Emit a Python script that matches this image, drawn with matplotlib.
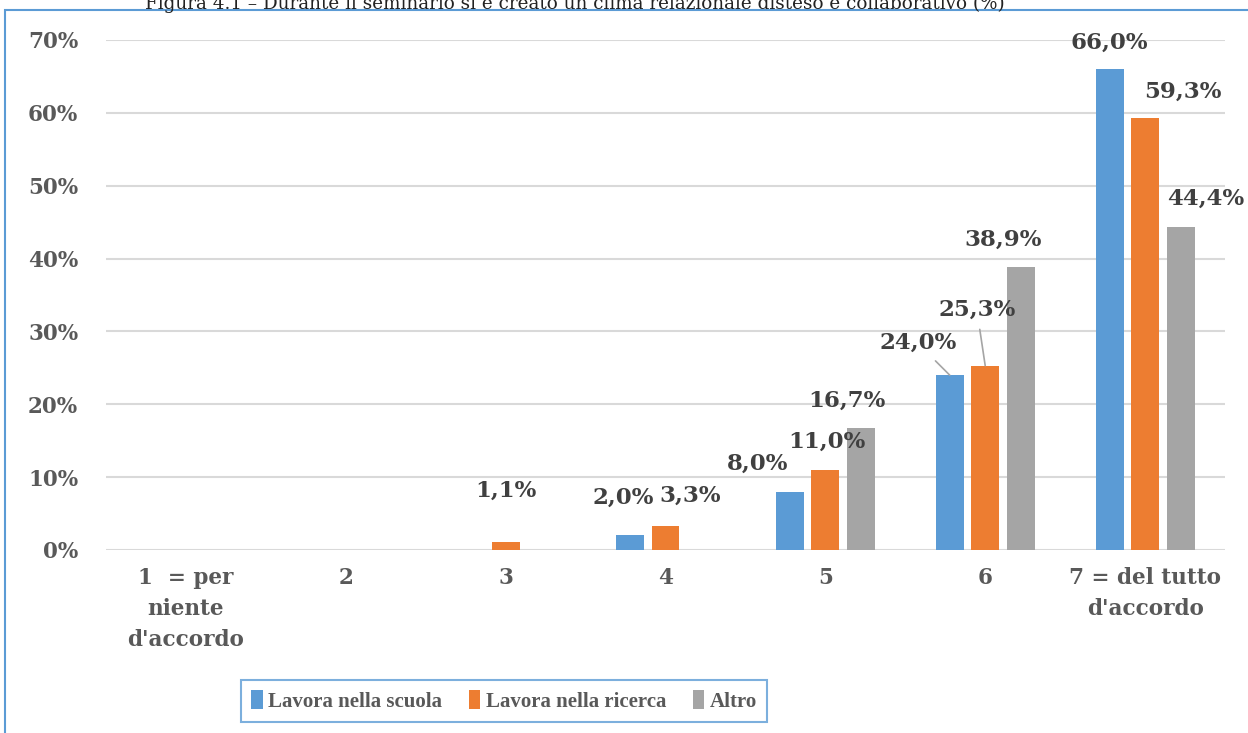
import numpy as np
import matplotlib
matplotlib.use('Agg')
import matplotlib.pyplot as plt
from matplotlib.patches import Rectangle

# ---- data ----
categories = ["1  = per\nniente\nd'accordo", "2", "3", "4", "5", "6", "7 = del tutto\nd'accordo"]
series = ["Lavora nella scuola", "Lavora nella ricerca", "Altro"]
scuola = [0.0, 0.0, 0.0, 2.0, 8.0, 24.0, 66.0]
ricerca = [0.0, 0.0, 1.1, 3.3, 11.0, 25.3, 59.3]
altro = [0.0, 0.0, 0.0, 0.0, 16.7, 38.9, 44.4]
colors = ['#5b9bd5', '#ed7d31', '#a5a5a5']
title = "Figura 4.1 \u2013 Durante il seminario si è creato un clima relazionale disteso e collaborativo (%)"

# label offsets (points) relative to bar top, per series/category
offsets = {
    0: {3: (-5, 27), 4: (-23, 20), 5: (-23, 23), 6: (0, 19)},
    1: {2: (0, 37), 3: (18, 22), 4: (1, 20), 5: (-6, 40), 6: (27, 19)},
    2: {4: (-10, 20), 5: (-13, 19), 6: (18, 20)},
}
leaders = {(0, 5), (1, 5)}

plt.rcParams['font.family'] = ['DejaVu Serif']
fig = plt.figure(figsize=(12.48, 7.33), dpi=100)
ax = fig.add_axes([106/1248, 1 - 550/733, (1225 - 106)/1248, (550 - 40)/733])

x = np.arange(len(categories))
w = 0.175
step = 0.222
for i, (vals, c) in enumerate(zip([scuola, ricerca, altro], colors)):
    pos = x + (i - 1) * step
    ax.bar(pos, vals, width=w, color=c, zorder=3, label=series[i])
    for j, (xp, v) in enumerate(zip(pos, vals)):
        if j not in offsets[i]:
            continue
        dx, dy = offsets[i][j]
        txt = f"{v:.1f}%".replace('.', ',')
        ap = dict(arrowstyle='-', color='#a5a5a5', lw=1.2, shrinkA=4, shrinkB=0) if (i, j) in leaders else None
        ax.annotate(txt, (xp, v), xytext=(dx, dy), textcoords='offset points',
                    ha='center', va='center', fontsize=16.5, fontweight='bold',
                    color='#404040', arrowprops=ap, annotation_clip=False, zorder=5)

ax.set_xlim(-0.5, len(categories) - 0.5)
ax.set_ylim(0, 70)
ax.set_yticks(np.arange(0, 71, 10))
ax.set_yticklabels([f"{t}%" for t in range(0, 71, 10)])
ax.set_xticks(x)
ax.set_xticklabels(categories, linespacing=1.55, va='top')
for s in ax.spines.values():
    s.set_visible(False)
ax.grid(axis='y', color='#d9d9d9', lw=1.5, zorder=0)
ax.tick_params(axis='both', length=0, labelsize=15.5, colors='#595959')
ax.tick_params(axis='y', pad=20)
ax.tick_params(axis='x', pad=12)
for lab in ax.get_xticklabels() + ax.get_yticklabels():
    lab.set_fontweight('bold')

# legend (narrower serif, like the condensed original)
leg = fig.legend(loc='center', bbox_to_anchor=(504/1248, 1 - 701/733), ncol=3,
                 frameon=True, fancybox=False, edgecolor='#5b9bd5',
                 prop={'family': 'Liberation Serif', 'size': 15, 'weight': 'bold'},
                 handlelength=0.55, handleheight=1.0,
                 handletextpad=0.25, columnspacing=1.3, borderpad=0.5, borderaxespad=0)
leg.get_frame().set_linewidth(1.5)
for t in leg.get_texts():
    t.set_color('#595959')

# chart border and (clipped) title
fig.patches.append(Rectangle((5/1248, -0.05), 1.2, 1 - 10/733 + 0.05, transform=fig.transFigure,
                             fill=False, edgecolor='#5b9bd5', lw=1.5))
fig.text(575/1248, 1 - 9/733, title, ha='center', va='baseline', fontsize=13.2, color='#222222')

fig.savefig('out.png', dpi=100)
